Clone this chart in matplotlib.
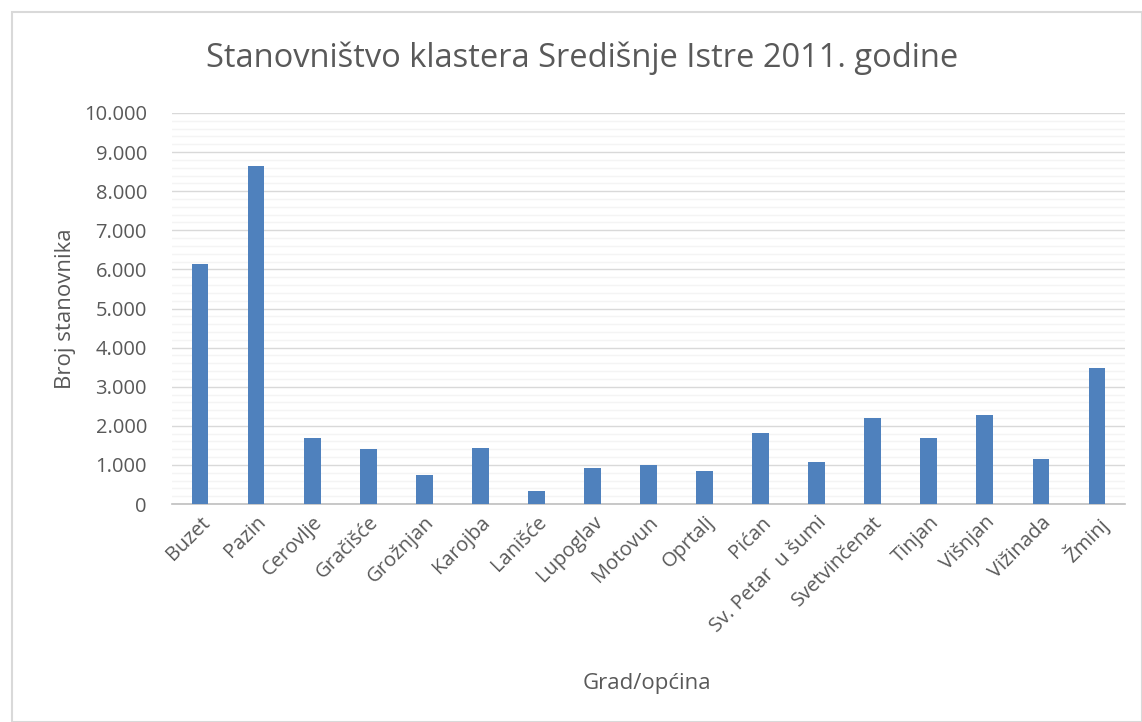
import matplotlib
matplotlib.use("Agg")
import matplotlib.pyplot as plt
from matplotlib.patches import Rectangle
from matplotlib.ticker import MultipleLocator, FuncFormatter

categories = ["Buzet", "Pazin", "Cerovlje", "Gračišće", "Grožnjan", "Karojba", "Lanišće",
              "Lupoglav", "Motovun", "Oprtalj", "Pićan", "Sv. Petar  u šumi", "Svetvinčenat",
              "Tinjan", "Višnjan", "Vižinada", "Žminj"]
values = [6133, 8638, 1677, 1419, 736, 1438, 328, 924, 1004, 850, 1827, 1065, 2202,
          1684, 2274, 1158, 3483]
yticks = [0, 1000, 2000, 3000, 4000, 5000, 6000, 7000, 8000, 9000, 10000]

plt.rcParams['font.family'] = ['Open Sans', 'DejaVu Sans']
txt = '#595959'

fig = plt.figure(figsize=(11.42, 7.22), dpi=100)
fig.patches.append(Rectangle((12/1142, 0), 1 - 12/1142, 1 - 12/722, transform=fig.transFigure,
                             fill=False, edgecolor='#D9D9D9', linewidth=1.5))
ax = fig.add_axes([172/1142, 1 - 504/722, (1125-172)/1142, (504-113)/722])

x = list(range(len(categories)))
ax.bar(x, values, width=0.3, color='#4F81BD', zorder=3)
ax.set_xlim(-0.5, len(categories) - 0.5)
ax.set_ylim(0, 10000)
ax.set_yticks(yticks)
ax.yaxis.set_minor_locator(MultipleLocator(200))
ax.yaxis.set_major_formatter(FuncFormatter(lambda v, p: f"{int(v):,}".replace(",", ".")))
ax.grid(axis='y', which='major', color='#D9D9D9', linewidth=1, zorder=0)
ax.grid(axis='y', which='minor', color='#F4F4F4', linewidth=1, zorder=0)
for s in ['top', 'right', 'left']:
    ax.spines[s].set_visible(False)
ax.spines['bottom'].set_color('#BFBFBF')
ax.spines['bottom'].set_linewidth(1.2)
ax.tick_params(axis='both', which='both', length=0, colors=txt, labelsize=14.5)
ax.tick_params(axis='y', pad=18)
ax.set_xticks(x)
ax.set_xticklabels(categories, rotation=45, ha='right', va='top', rotation_mode='anchor')
ax.tick_params(axis='x', pad=6)

ax.set_ylabel("Broj stanovnika", fontsize=16, color=txt, labelpad=6)
fig.text(647/1142, 1 - 683/722, "Grad/općina", fontsize=16, color=txt, ha='center', va='center')
fig.text(582/1142, 1 - 58/722, "Stanovništvo klastera Središnje Istre 2011. godine",
         fontsize=23.5, color=txt, ha='center', va='center')

fig.savefig("out.png", dpi=100)
